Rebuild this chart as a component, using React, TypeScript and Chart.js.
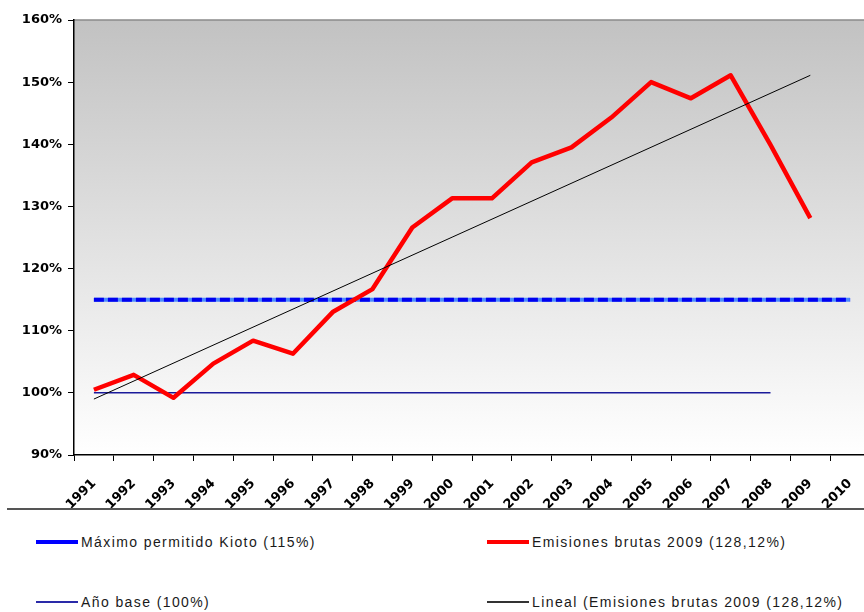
import React, { useEffect, useRef } from "react";
import { Chart, registerables } from "chart.js";

Chart.register(...registerables);

const YEARS = ["1991","1992","1993","1994","1995","1996","1997","1998","1999","2000","2001","2002","2003","2004","2005","2006","2007","2008","2009","2010"];
const EMISIONES = [100.5, 102.9, 99.2, 104.7, 108.4, 106.3, 113.0, 116.7, 126.6, 131.3, 131.3, 137.1, 139.5, 144.3, 150.0, 147.4, 151.1, 139.9, 128.12, null];
const KIOTO = [115, 115, 115, 115, 115, 115, 115, 115, 115, 115, 115, 115, 115, 115, 115, 115, 115, 115, 115, 115];
const ANO_BASE = [100, 100, 100, 100, 100, 100, 100, 100, 100, 100, 100, 100, 100, 100, 100, 100, 100, 100, null, null];
const LINEAL = [99.0, null, null, null, null, null, null, null, null, null, null, null, null, null, null, null, null, null, 151.1, null];
const Y_MIN = 90;
const Y_MAX = 160;
const Y_STEP = 10;

const LABEL_KIOTO = "Máximo permitido Kioto (115%)";
const LABEL_EMIS = "Emisiones brutas 2009 (128,12%)";
const LABEL_BASE = "Año base (100%)";
const LABEL_LINEAL = "Lineal (Emisiones brutas 2009 (128,12%)";

const bgPlugin = {
  id: "bgGradient",
  beforeDraw(chart: any) {
    const { ctx, chartArea } = chart;
    if (!chartArea) return;
    const g = ctx.createLinearGradient(0, chartArea.top, 0, chartArea.bottom);
    g.addColorStop(0, "#c2c2c2");
    g.addColorStop(1, "#ffffff");
    ctx.save();
    ctx.fillStyle = g;
    ctx.fillRect(chartArea.left, chartArea.top, chartArea.right - chartArea.left, chartArea.bottom - chartArea.top);
    ctx.strokeStyle = "#8a8a8a";
    ctx.lineWidth = 1.5;
    ctx.beginPath();
    ctx.moveTo(chartArea.left, chartArea.top);
    ctx.lineTo(chartArea.right, chartArea.top);
    ctx.stroke();
    ctx.restore();
  },
};

const LEGEND = [
  { label: LABEL_KIOTO, color: "#0000ff", width: 4, left: 36, top: 542 },
  { label: LABEL_EMIS, color: "#ff0000", width: 4, left: 487, top: 542 },
  { label: LABEL_BASE, color: "#2a2aa8", width: 1.5, left: 36, top: 602 },
  { label: LABEL_LINEAL, color: "#333333", width: 1.2, left: 487, top: 602 },
];

export default function App() {
  const ref = useRef<HTMLCanvasElement>(null);
  useEffect(() => {
    if (!ref.current) return;
    const tickFont = { family: "'DejaVu Sans', sans-serif", size: 13, weight: "bold" as const };
    const chart = new Chart(ref.current, {
      type: "line",
      data: {
        labels: YEARS,
        datasets: [
          { label: LABEL_LINEAL, data: LINEAL, borderColor: "#000000", borderWidth: 1, pointRadius: 0, spanGaps: true, tension: 0 },
          { label: LABEL_EMIS, data: EMISIONES, borderColor: "#ff0000", borderWidth: 4.5, pointRadius: 0, tension: 0, borderJoinStyle: "round" },
          { label: LABEL_KIOTO, data: KIOTO, borderColor: "#0000f0", borderWidth: 4, borderDash: [10, 4], pointRadius: 0 },
          { label: "kioto-base", data: KIOTO, borderColor: "#4d8cff", borderWidth: 4, pointRadius: 0 },
          { label: LABEL_BASE, data: ANO_BASE, borderColor: "#1a1a9a", borderWidth: 1.5, pointRadius: 0 },
        ],
      },
      options: {
        animation: false,
        responsive: true,
        maintainAspectRatio: false,
        layout: { padding: { left: 0, right: 10, top: 20, bottom: 0 } },
        plugins: { legend: { display: false }, tooltip: { enabled: false } },
        scales: {
          x: {
            offset: true,
            grid: { offset: true, drawOnChartArea: false, drawTicks: true, tickLength: 6, color: "#000000" },
            border: { color: "#000000", width: 1.5 },
            ticks: { color: "#000000", font: tickFont, minRotation: 45, maxRotation: 45, padding: 15, autoSkip: false },
            afterFit(scale: any) { scale.height = 57; },
          },
          y: {
            min: Y_MIN,
            max: Y_MAX,
            grid: { drawOnChartArea: false, drawTicks: true, tickLength: 6, color: "#000000" },
            border: { color: "#000000", width: 1.5 },
            ticks: { stepSize: Y_STEP, color: "#000000", font: tickFont, padding: 6, callback: (v: any) => v + "%" },
            afterFit(scale: any) { scale.width = 74; },
          },
        },
      },
      plugins: [bgPlugin],
    });
    return () => chart.destroy();
  }, []);

  return (
    <div style={{ position: "fixed", left: 0, top: 0, width: 880, height: 612, background: "#ffffff", overflow: "hidden" }}>
      <div style={{ position: "absolute", left: 0, top: 0, width: 880, height: 512 }}>
        <canvas ref={ref} />
      </div>
      <div style={{ position: "absolute", left: 7, top: 508, width: 873, height: 2, background: "#555555" }} />
      {LEGEND.map((it) => (
        <div key={it.label} style={{ position: "absolute", left: it.left, top: it.top - 10, height: 20, display: "flex", alignItems: "center", whiteSpace: "nowrap" }}>
          <div style={{ width: 42, height: it.width, background: it.color, marginRight: 3 }} />
          <span style={{ fontFamily: "'Liberation Sans', Arial, sans-serif", fontSize: 14, letterSpacing: "1.4px", color: "#1a1a1a" }}>{it.label}</span>
        </div>
      ))}
    </div>
  );
}
